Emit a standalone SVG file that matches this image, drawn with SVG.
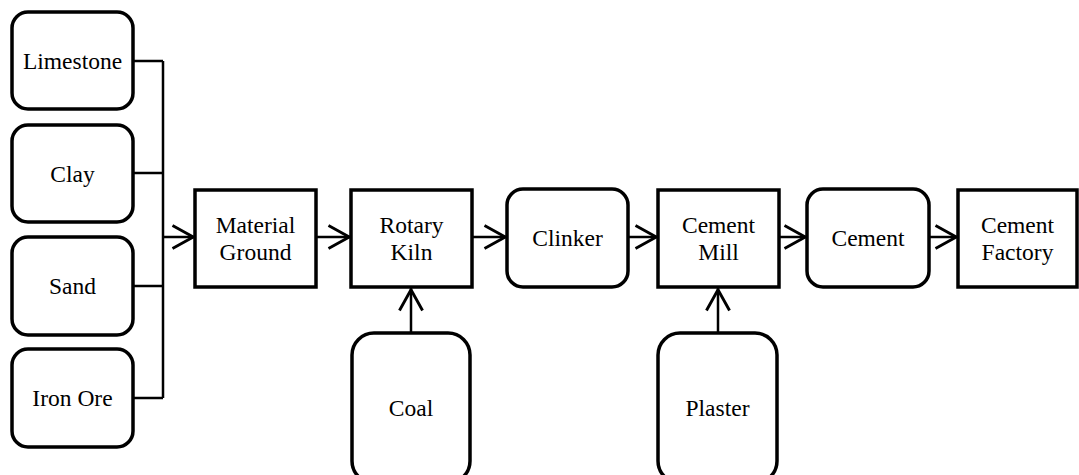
<svg xmlns="http://www.w3.org/2000/svg" width="1079" height="475" viewBox="0 0 1079 475">
<style>
.n rect{fill:#fff;stroke:#000;stroke-width:3.5}
.n text{font-family:"Liberation Serif",Tinos,Times,"Nimbus Roman","Noto Serif","DejaVu Serif",FreeSerif,serif;font-size:23.5px;fill:#000;text-anchor:middle}
.c path{fill:none;stroke:#000;stroke-width:2.5}
</style>
<defs>
<marker id="ah" markerUnits="userSpaceOnUse" markerWidth="30" markerHeight="30" viewBox="-22 -12 26 24" refX="1.5" refY="0" orient="auto" overflow="visible">
<path d="M-18,-10 L0,0 L-18,10" fill="none" stroke="#000" stroke-width="2.5"/>
</marker>
</defs>
<g class="c" id="connectors">
<path d="M133,61 H163 M133,173 H163 M133,286 H163 M133,398 H163 M163,61 V398"/>
<path d="M163,237 H195" marker-end="url(#ah)"/>
<path d="M316,237 H351" marker-end="url(#ah)"/>
<path d="M472,237 H507" marker-end="url(#ah)"/>
<path d="M628,237 H658" marker-end="url(#ah)"/>
<path d="M779,237 H807" marker-end="url(#ah)"/>
<path d="M929,237 H958" marker-end="url(#ah)"/>
<path d="M411,333 V288" marker-end="url(#ah)"/>
<path d="M718,333 V288" marker-end="url(#ah)"/>
</g>
<g class="n" id="limestone"><rect x="12" y="12" width="121" height="97" rx="16"/><text x="72.5" y="69">Limestone</text></g>
<g class="n" id="clay"><rect x="12" y="125" width="121" height="97" rx="16"/><text x="72.5" y="182">Clay</text></g>
<g class="n" id="sand"><rect x="12" y="237" width="121" height="98" rx="16"/><text x="72.5" y="294">Sand</text></g>
<g class="n" id="iron-ore"><rect x="12" y="349" width="121" height="98" rx="16"/><text x="72.5" y="406">Iron Ore</text></g>
<g class="n" id="material-ground"><rect x="195" y="190" width="121" height="97"/><text x="255.5" y="233">Material</text><text x="255.5" y="260">Ground</text></g>
<g class="n" id="rotary-kiln"><rect x="351" y="190" width="121" height="97"/><text x="411.5" y="233">Rotary</text><text x="411.5" y="260">Kiln</text></g>
<g class="n" id="clinker"><rect x="507" y="189" width="121" height="98" rx="16"/><text x="567.5" y="246">Clinker</text></g>
<g class="n" id="cement-mill"><rect x="658" y="190" width="121" height="97"/><text x="718.5" y="233">Cement</text><text x="718.5" y="260">Mill</text></g>
<g class="n" id="cement"><rect x="807" y="189" width="122" height="98" rx="16"/><text x="868" y="246">Cement</text></g>
<g class="n" id="cement-factory"><rect x="958" y="190" width="119" height="97"/><text x="1017.5" y="233">Cement</text><text x="1017.5" y="260">Factory</text></g>
<g class="n" id="coal"><rect x="352" y="333" width="118" height="150" rx="22"/><text x="411" y="416">Coal</text></g>
<g class="n" id="plaster"><rect x="658" y="333" width="119" height="150" rx="22"/><text x="717.5" y="416">Plaster</text></g>
</svg>
